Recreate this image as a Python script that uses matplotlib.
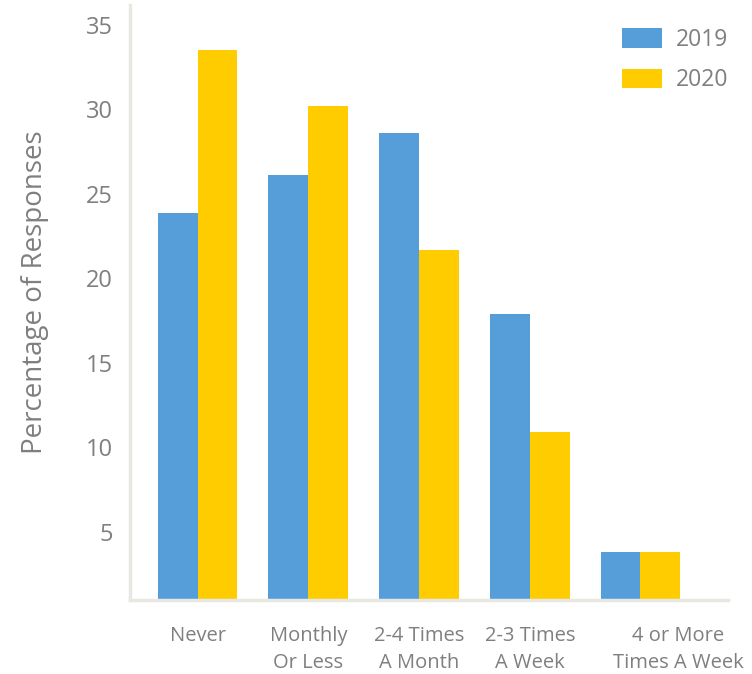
import matplotlib.pyplot as plt
import matplotlib.transforms as mtransforms
import numpy as np

plt.rcParams['font.family'] = ['Open Sans', 'DejaVu Sans']

categories = ["Never", "Monthly\nOr Less", "2-4 Times\nA Month", "2-3 Times\nA Week", "4 or More\nTimes A Week"]
vals_2019 = [23.9, 26.1, 28.6, 17.9, 3.8]
vals_2020 = [33.5, 30.2, 21.7, 10.9, 3.8]
yticks = [5, 10, 15, 20, 25, 30, 35]

blue = "#559ed9"
yellow = "#ffcc00"
grey = "#7f7f7f"
spine_col = "#e9e7e2"

fig = plt.figure(figsize=(7.52, 6.74), dpi=100)
ax = fig.add_axes([0.173, 0.11, 0.795, 0.883])

x = np.arange(len(categories))
w = 0.36
ax.bar(x - w / 2, vals_2019, w, color=blue, label="2019")
ax.bar(x + w / 2, vals_2020, w, color=yellow, label="2020")

ax.set_xlim(-0.61, 4.79)
ax.set_ylim(0.98, 36.2)
ax.set_yticks(yticks)
ax.set_yticklabels([str(t) for t in yticks], fontsize=17, color=grey)
ax.set_xticks(x)
ax.set_xticklabels(categories, fontsize=14.5, color=grey, linespacing=1.45)
ax.tick_params(axis='both', length=0)
ax.tick_params(axis='y', pad=12.5)
ax.tick_params(axis='x', pad=19)

# last label sits a bit to the right of its bars
lbl = ax.get_xticklabels()[-1]
lbl.set_transform(lbl.get_transform() + mtransforms.ScaledTranslation(0.38, 0, fig.dpi_scale_trans))

ax.set_ylabel("Percentage of Responses", fontsize=20, color=grey, labelpad=20)
ax.yaxis.set_label_coords(-0.135, 0.517)

for s in ["top", "right"]:
    ax.spines[s].set_visible(False)
for s in ["left", "bottom"]:
    ax.spines[s].set_color(spine_col)
    ax.spines[s].set_linewidth(2.5)

ax.legend(loc="upper right", bbox_to_anchor=(1.035, 0.995), frameon=False,
          fontsize=16.5, labelcolor=grey, handlelength=1.75, handleheight=0.96,
          handletextpad=0.6, labelspacing=0.7)

fig.savefig("out.png", dpi=100)
